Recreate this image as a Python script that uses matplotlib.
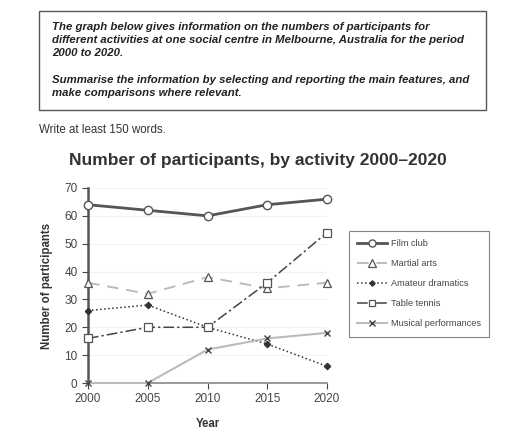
import matplotlib.pyplot as plt
from matplotlib.patches import Rectangle

years = [2000, 2005, 2010, 2015, 2020]
film_club = [64, 62, 60, 64, 66]
martial_arts = [36, 32, 38, 34, 36]
amateur_dramatics = [26, 28, 20, 14, 6]
table_tennis = [16, 20, 20, 36, 54]
musical = [0, 0, 12, 16, 18]

plt.rcParams["font.family"] = ["Liberation Sans", "DejaVu Sans"]

fig = plt.figure(figsize=(5.12, 4.32), dpi=100)

# task box on top
fig.patches.append(Rectangle((39 / 512, 1 - 110 / 432), 447 / 512, 99 / 432,
                             transform=fig.transFigure, fill=False,
                             edgecolor="#555555", linewidth=1))
task = ("The graph below gives information on the numbers of participants for\n"
        "different activities at one social centre in Melbourne, Australia for the period\n"
        "2000 to 2020.")
task2 = ("Summarise the information by selecting and reporting the main features, and\n"
         "make comparisons where relevant.")
fig.text(52 / 512, 1 - 22 / 432, task, ha="left", va="top", fontsize=8.2,
         fontweight="bold", fontstyle="italic", color="#222222", linespacing=1.38)
fig.text(52 / 512, 1 - 75 / 432, task2, ha="left", va="top", fontsize=8.2,
         fontweight="bold", fontstyle="italic", color="#222222", linespacing=1.38)
fig.text(39 / 512, 1 - 130 / 432, "Write at least 150 words.", ha="left",
         va="center", fontsize=8.3, color="#333333")

ax = fig.add_axes([88 / 512, 1 - 383 / 432, 239 / 512, 195 / 432])

ax.plot(years, film_club, color="#555555", linewidth=2, marker="o", markersize=6,
        markerfacecolor="white", markeredgecolor="#555555", markeredgewidth=1,
        label="Film club", clip_on=False, zorder=5)
ax.plot(years, martial_arts, color="#bbbbbb", linewidth=1.4, linestyle=(0, (6, 4)),
        marker="^", markersize=6, markerfacecolor="white", markeredgecolor="#555555",
        markeredgewidth=0.9, label="Martial arts", clip_on=False, zorder=4)
ax.plot(years, amateur_dramatics, color="#333333", linewidth=1.1, linestyle=":",
        marker="D", markersize=3.2, markerfacecolor="#333333", markeredgecolor="#333333",
        label="Amateur dramatics", clip_on=False, zorder=4)
ax.plot(years, table_tennis, color="#444444", linewidth=1.1, linestyle=(0, (7, 2, 1.5, 2)),
        marker="s", markersize=5.5, markerfacecolor="white", markeredgecolor="#555555",
        markeredgewidth=0.9, label="Table tennis", clip_on=False, zorder=4)
ax.plot(years, musical, color="#bbbbbb", linewidth=1.5, marker="x", markersize=5,
        markeredgecolor="#444444", markeredgewidth=1, label="Musical performances",
        clip_on=False, zorder=4)

ax.set_xlim(2000, 2020)
ax.set_ylim(0, 70)
ax.set_xticks(years)
ax.set_yticks(range(0, 71, 10))
ax.tick_params(labelsize=8.5, colors="#444444", length=4, direction="out")
ax.yaxis.grid(True, color="#f2f2f2", linewidth=0.8)
ax.set_axisbelow(True)
for s in ["top", "right"]:
    ax.spines[s].set_visible(False)
ax.spines["left"].set_color("#555555")
ax.spines["left"].set_linewidth(1.8)
ax.spines["bottom"].set_color("#888888")
ax.spines["bottom"].set_linewidth(1.2)

ax.set_ylabel("Number of participants", fontsize=8.3, fontweight="bold",
              color="#333333", labelpad=8)
ax.set_xlabel("Year", fontsize=8.3, fontweight="bold", color="#333333", labelpad=9)

fig.text(258 / 512, 1 - 160 / 432, "Number of participants, by activity 2000\u20132020",
         ha="center", va="center", fontsize=12.5, fontweight="bold", color="#333333")

leg = ax.legend(loc="upper left", bbox_to_anchor=(349 / 512, 1 - 231 / 432),
                bbox_transform=fig.transFigure, borderaxespad=0, fontsize=6.6,
                frameon=True, fancybox=False, edgecolor="#666666", handlelength=3.2,
                labelspacing=1.2, borderpad=0.9, handletextpad=0.5, markerscale=0.85)
leg.get_frame().set_linewidth(0.8)
for t in leg.get_texts():
    t.set_color("#444444")

fig.savefig("out.png", dpi=100)
